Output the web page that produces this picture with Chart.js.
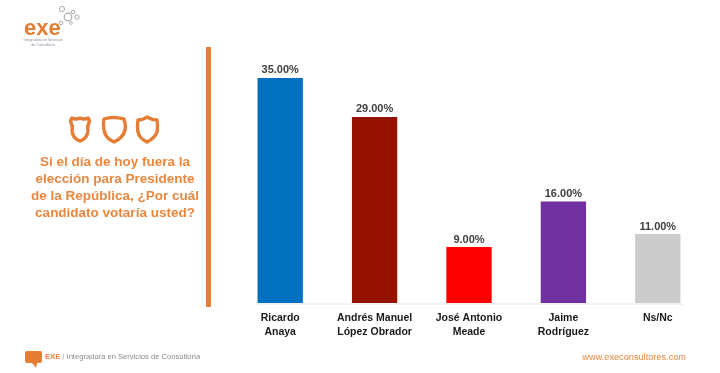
<!DOCTYPE html>
<html lang="es">
<head>
<meta charset="utf-8">
<title>Elección Presidente</title>
<script src="https://cdn.jsdelivr.net/npm/chart.js@4"></script>
<style>
    html, body { margin: 0; padding: 0; background: #fff; }
    body { position: relative; width: 720px; height: 373px; overflow: hidden; font-family: "Liberation Sans", Arial, sans-serif; }
    #chart-box { position: absolute; left: 0; top: 0; width: 720px; height: 373px; }
    .divider { position: absolute; left: 206px; top: 47px; width: 5px; height: 260px; background: #E57E34; }
    .question { position: absolute; left: 25px; top: 153px; width: 180px; text-align: center; color: #E8873F; font-weight: bold; font-size: 13.5px; line-height: 17px; }
    .shields { position: absolute; left: 68px; top: 115px; }
    .logo { position: absolute; left: 20px; top: 4px; }
    .logo-sub { position: absolute; left: -7px; top: 34px; width: 60px; text-align: center; color: #8a8a9a; font-size: 3.6px; line-height: 4.5px; }
    .footer-left { position: absolute; left: 45px; top: 352px; color: #8a8a8a; font-size: 7.6px; line-height: 10px; }
    .footer-left b { color: #E57E34; }
    .footer-right { position: absolute; right: 34px; top: 352px; color: #E8873F; font-size: 9.2px; line-height: 11px; }
    .bubble { position: absolute; left: 25px; top: 351px; }
</style>
</head>
<body>
<div id="chart-box"><canvas id="votesChart"></canvas></div>

<div class="logo">
    <svg width="70" height="40" viewBox="0 0 70 40">
        <text x="4" y="31" font-family="Liberation Sans, Arial, sans-serif" font-size="22" font-weight="bold" fill="#E57E34">exe</text>
        <g fill="none" stroke="#a9a9a9">
            <circle cx="48" cy="13" r="3.8" stroke-width="1.2"/>
            <circle cx="42" cy="5" r="2.6" stroke-width="1"/>
            <circle cx="53" cy="8" r="1.8" stroke-width="1"/>
            <circle cx="57" cy="13" r="2.2" stroke-width="1"/>
            <circle cx="41" cy="19" r="1.8" stroke-width="1"/>
            <circle cx="51" cy="19" r="1.4" stroke-width="0.8"/>
        </g>
    </svg>
    <div class="logo-sub">Integradora en Servicios<br>de Consultoría</div>
</div>

<svg class="shields" width="96" height="30" viewBox="0 0 96 30" fill="none" stroke="#E57E34" stroke-width="3.4" stroke-linejoin="round">
    <path d="M4 3 Q8 5 12 3 Q16 5 20 3 Q22 5 21 8 Q19 11 20 15 Q20 23 12 26 Q4 23 4 15 Q5 11 3 8 Q2 5 4 3Z"/>
    <path d="M36 4 Q45 1 56 4 Q58 10 57 15 Q55 23 46 27 Q37 23 36 15 Q35 9 36 4Z"/>
    <path d="M79 2 Q84 5 89 5 Q90 12 89 17 Q87 23 79 27 Q71 23 70 17 Q69 12 70 5 Q75 5 79 2Z"/>
</svg>

<div class="question">Si el día de hoy fuera la<br>elección para Presidente<br>de la República, ¿Por cuál<br>candidato votaría usted?</div>

<div class="divider"></div>

<svg class="bubble" width="18" height="18" viewBox="0 0 18 18">
    <path d="M2 0 H15 Q17 0 17 2 V10 Q17 12 15 12 H12 L11 17 L7 12 H2 Q0 12 0 10 V2 Q0 0 2 0Z" fill="#E57E34"/>
</svg>
<div class="footer-left"><b>EXE</b> / Integradora en Servicios de Consultoría</div>
<div class="footer-right">www.execonsultores.com</div>

<script>
// Chart data
const candidates = [['Ricardo', 'Anaya'], ['Andrés Manuel', 'López Obrador'], ['José Antonio', 'Meade'], ['Jaime', 'Rodríguez'], ['Ns/Nc']];
const votes = [35, 29, 9, 16, 11];
const barColors = ['#0070C0', '#951200', '#FF0000', '#7030A0', '#CCCCCC'];

// Value labels above each bar, and the faint base line
const barExtras = {
    id: 'barExtras',
    afterDatasetsDraw(chart) {
        const ctx = chart.ctx;
        const bars = chart.getDatasetMeta(0).data;
        const base = chart.chartArea.bottom;

        ctx.save();
        ctx.strokeStyle = '#e4e4e4';
        ctx.lineWidth = 1;
        ctx.beginPath();
        ctx.moveTo(bars[0].x - 23, base + 1);
        ctx.lineTo(bars[4].x + 26, base + 1);
        ctx.stroke();

        ctx.fillStyle = '#404040';
        ctx.font = 'bold 11px "Liberation Sans", Arial, sans-serif';
        ctx.textAlign = 'center';
        ctx.textBaseline = 'bottom';
        bars.forEach((bar, i) => {
            ctx.fillText(votes[i].toFixed(2) + '%', bar.x, bar.y - 2);
        });
        ctx.restore();
    }
};

new Chart(document.getElementById('votesChart'), {
    type: 'bar',
    data: {
        labels: candidates,
        datasets: [{
            data: votes,
            backgroundColor: barColors,
            barPercentage: 0.48,
            categoryPercentage: 1
        }]
    },
    options: {
        responsive: true,
        maintainAspectRatio: false,
        animation: false,
        layout: { padding: { left: 233, right: 15, top: 46, bottom: 0 } },
        plugins: { legend: { display: false }, tooltip: { enabled: false } },
        scales: {
            x: {
                grid: { display: false },
                border: { display: false },
                ticks: {
                    color: '#1a1a1a',
                    padding: 1,
                    maxRotation: 0,
                    autoSkip: false,
                    font: { family: '"Liberation Sans", Arial, sans-serif', size: 10.5, weight: 'bold', lineHeight: 1.25 }
                },
                afterFit(scale) { scale.height = 70; }
            },
            // axis in the original starts just under zero line, so bars get cut at the base
            y: { display: false, min: 0.4, max: 39.9 }
        }
    },
    plugins: [barExtras]
});
</script>
</body>
</html>
